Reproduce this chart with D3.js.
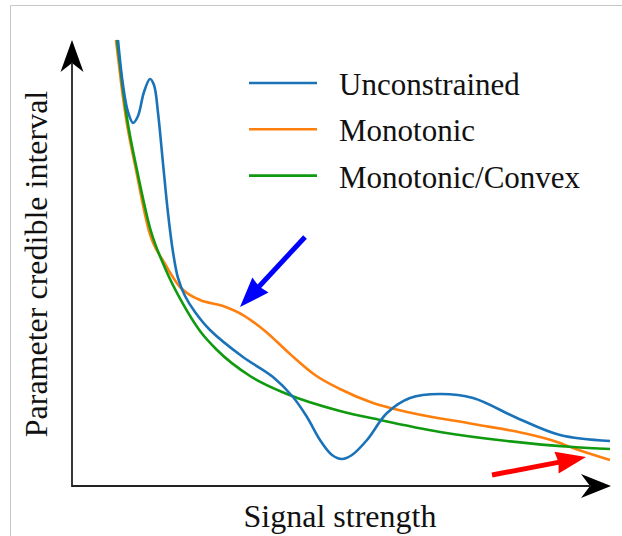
<!DOCTYPE html>
<html>
<head>
<meta charset="utf-8">
<script src="https://cdn.jsdelivr.net/npm/d3@7"></script>
</head>
<body style="margin:0; background:#fff; font-family:'Liberation Serif'">
<svg id="chart" width="622" height="536" style="display:block"></svg>
<script>
// curve data, in arbitrary units (x: signal strength 0-100, y: interval 0-100)
const unconstrainedX = [8.55, 9.48, 10.41, 11.34, 12.27, 13.38, 14.5, 15.24, 15.99, 16.91, 17.84, 18.77, 19.7, 21.01, 22.86, 25.65, 31.78, 37.36, 41.08, 43.68, 46.1, 48.33, 50.19, 52.04, 54.83, 58.55, 62.83, 68.4, 74.54, 82.71, 90.71, 100];
const unconstrainedY = [100, 89.91, 83.86, 81.39, 82.96, 88.34, 91.26, 89.91, 83.63, 72.42, 61.21, 52.47, 46.64, 42.6, 39.01, 34.98, 28.92, 24.44, 19.96, 15.47, 10.31, 6.95, 6.05, 6.95, 10.31, 16.37, 19.73, 20.63, 19.73, 15.25, 11.43, 10.09];

const monotonicX = [8.18, 9.11, 10.04, 11.9, 14.31, 17.29, 20.07, 21.38, 23.79, 28.07, 31.78, 35.87, 40.52, 45.17, 49.81, 55.95, 62.27, 74.54, 83.83, 90.15, 93.12, 100];
const monotonicY = [100, 90.58, 82.51, 70.85, 57.17, 49.78, 44.62, 43.27, 41.7, 40.36, 38.34, 34.75, 29.6, 24.89, 21.75, 18.61, 16.59, 13.9, 11.88, 9.87, 8.52, 5.83];

const convexX = [8.36, 9.29, 10.22, 12.08, 14.5, 17.29, 20.63, 23.79, 26.95, 33.09, 39.96, 49.81, 57.25, 68.4, 80.86, 93.12, 100];
const convexY = [100, 90.58, 82.51, 70.85, 57.85, 48.88, 40.81, 34.75, 30.49, 24.66, 20.63, 16.82, 14.8, 12.11, 10.09, 8.74, 8.3];

const seriesNames = ["Unconstrained", "Monotonic", "Monotonic/Convex"];
const seriesColors = ["#1a73b8", "#ff7f0e", "#109a10"];

// annotation arrows [x0, y0, x1, y1] in data units
const blueArrow = [43.31, 55.83, 31.23, 40.13];
const redArrow = [78.07, 2.47, 95.54, 6.5];

const svg = d3.select("#chart");

// light frame of the screenshot
svg.append("path")
    .attr("d", "M10.5,536 V5.5 H622")
    .attr("fill", "none")
    .attr("stroke", "#c8c8c8")
    .attr("stroke-width", 1);

const x = d3.scaleLinear().domain([0, 100]).range([72, 610]);
const y = d3.scaleLinear().domain([0, 100]).range([486, 40]);

// arrow head helper: tip point, direction from (fx,fy)
function arrowHead(g, tx, ty, fx, fy, len, half, notch, color) {
    const dx = tx - fx, dy = ty - fy;
    const d = Math.hypot(dx, dy);
    const ux = dx / d, uy = dy / d;
    const nx = -uy, ny = ux;
    const bx = tx - ux * len, by = ty - uy * len;
    const pts = [
        [tx, ty],
        [bx + nx * half, by + ny * half],
        [tx - ux * (len - notch), ty - uy * (len - notch)],
        [bx - nx * half, by - ny * half]
    ];
    g.append("path")
        .attr("d", "M" + pts.map(p => p.join(",")).join("L") + "Z")
        .attr("fill", color);
    return [tx - ux * (len - notch - 1), ty - uy * (len - notch - 1)];
}

function serifText(g, str, size) {
    return g.append("text")
        .style("font-family", "Liberation Serif")
        .style("font-size", size + "px")
        .style("fill", "#111")
        .text(str);
}

// axes
const axes = svg.append("g");
const yTip = arrowHead(axes, x(0), y(100), x(0), y(0), 32, 11.5, 9, "#000");
const xTip = arrowHead(axes, x(100) + 1, y(0), x(0), y(0), 30, 12, 9, "#000");
axes.append("path")
    .attr("d", `M${x(0)},${yTip[1]} V${y(0)} H${xTip[0]}`)
    .attr("fill", "none")
    .attr("stroke", "#222")
    .attr("stroke-width", 1.8);

// curves
const smoothLine = d3.line()
    .x(d => x(d[0]))
    .y(d => y(d[1]))
    .curve(d3.curveCatmullRom.alpha(0.5));

const monoLine = d3.line()
    .x(d => x(d[0]))
    .y(d => y(d[1]))
    .curve(d3.curveMonotoneX);

const series = [
    d3.zip(unconstrainedX, unconstrainedY),
    d3.zip(monotonicX, monotonicY),
    d3.zip(convexX, convexY)
];

// draw order: orange, green, blue on top
[1, 2, 0].forEach(i => {
    svg.append("path")
        .datum(series[i])
        .attr("d", i === 0 ? smoothLine : monoLine)
        .attr("fill", "none")
        .attr("stroke", seriesColors[i])
        .attr("stroke-width", 2.6);
});

// annotation arrows
function drawArrow(a, color) {
    const g = svg.append("g");
    const base = arrowHead(g, x(a[2]), y(a[3]), x(a[0]), y(a[1]), 30, 11, 2, color);
    g.append("line")
        .attr("x1", x(a[0])).attr("y1", y(a[1]))
        .attr("x2", base[0]).attr("y2", base[1])
        .attr("stroke", color)
        .attr("stroke-width", 5);
}
drawArrow(blueArrow, "#0000ff");
drawArrow(redArrow, "#ff0000");

// legend
const legend = svg.append("g").attr("transform", "translate(249, 83)");
seriesNames.forEach((name, i) => {
    const row = legend.append("g").attr("transform", `translate(0, ${i * 46.3})`);
    row.append("line")
        .attr("x1", 0).attr("x2", 68)
        .attr("stroke", seriesColors[i])
        .attr("stroke-width", 2.6);
    serifText(row, name, 31)
        .attr("x", 90)
        .attr("y", 12);
});

// axis labels
serifText(svg, "Signal strength", 32)
    .attr("x", 340)
    .attr("y", 527)
    .attr("text-anchor", "middle");

serifText(svg, "Parameter credible interval", 32)
    .attr("transform", "translate(47, 264) rotate(-90)")
    .attr("text-anchor", "middle");
</script>
</body>
</html>
